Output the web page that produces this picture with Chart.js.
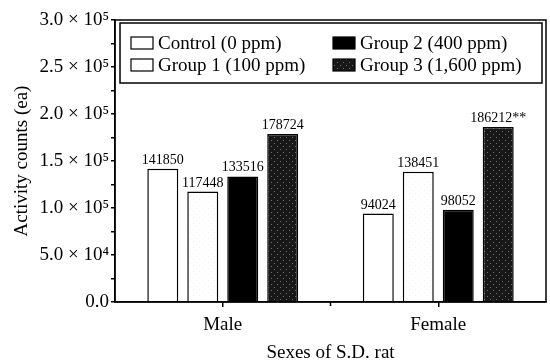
<!DOCTYPE html>
<html>
<head>
<meta charset="utf-8">
<script src="https://cdn.jsdelivr.net/npm/chart.js@4"></script>
<style>
	html, body { margin: 0; padding: 0; background: #fff; }
</style>
</head>
<body>
<canvas id="chart" width="550" height="364"></canvas>
<script>
var sexes = ['Male', 'Female'];
var groupNames = ['Control (0 ppm)', 'Group 1 (100 ppm)', 'Group 2 (400 ppm)', 'Group 3 (1,600 ppm)'];
var controlCounts = [141850, 94024];
var group1Counts = [117448, 138451];
var group2Counts = [133516, 98052];
var group3Counts = [178724, 186212];
var group3Marks = ['', '**'];
var yTickValues = [0, 50000, 100000, 150000, 200000, 250000, 300000];
var yTickLabels = ['0.0', '5.0 × 10⁴', '1.0 × 10⁵', '1.5 × 10⁵', '2.0 × 10⁵', '2.5 × 10⁵', '3.0 × 10⁵'];

var SERIF = '"Liberation Serif", "DejaVu Serif", serif';

// small dotted tile, used as a fill for the shaded groups
function makeDots(base, speck, spots) {
	var c = document.createElement('canvas');
	c.width = 6;
	c.height = 6;
	var g = c.getContext('2d');
	g.fillStyle = base;
	g.fillRect(0, 0, 6, 6);
	g.fillStyle = speck;
	spots.forEach(function (s) {
		g.fillRect(s[0], s[1], 1, 1);
	});
	return g.createPattern(c, 'repeat');
}

var lightDots = makeDots('#ffffff', '#f2f2f2', [[1, 1], [4, 4]]);
var darkDots = makeDots('#181818', '#6e6e6e', [[1, 2], [4, 5]]);

// value written above every bar
var valueLabels = {
	id: 'valueLabels',
	afterDatasetsDraw: function (chart) {
		var ctx = chart.ctx;
		ctx.save();
		ctx.font = '14px ' + SERIF;
		ctx.fillStyle = '#000';
		ctx.textAlign = 'center';
		ctx.textBaseline = 'alphabetic';
		chart.data.datasets.forEach(function (ds, di) {
			chart.getDatasetMeta(di).data.forEach(function (bar, i) {
				var txt = String(ds.data[i]) + (ds.marks ? ds.marks[i] : '');
				ctx.fillText(txt, bar.x, bar.y - 5);
			});
		});
		ctx.restore();
	}
};

// box round the plot area and the tick between the two sexes
var frame = {
	id: 'frame',
	afterDraw: function (chart) {
		var a = chart.chartArea;
		var x = chart.scales.x;
		var ctx = chart.ctx;
		ctx.save();
		ctx.strokeStyle = '#000';
		ctx.lineWidth = 1.5;
		ctx.strokeRect(a.left, a.top, a.right - a.left, a.bottom - a.top);
		var mid = (x.getPixelForValue(0) + x.getPixelForValue(1)) / 2;
		ctx.beginPath();
		ctx.moveTo(mid, a.bottom);
		ctx.lineTo(mid, a.bottom + 4);
		ctx.stroke();
		ctx.restore();
	}
};

// two column legend in a box at the top of the plot
var boxLegend = {
	id: 'boxLegend',
	afterDraw: function (chart) {
		var a = chart.chartArea;
		var ctx = chart.ctx;
		var left = a.left + 5, top = a.top + 3;
		var right = a.right - 4, bottom = a.top + 63;
		var cols = [left + 11, left + 213];
		var rows = [top + 20, top + 42];
		ctx.save();
		ctx.fillStyle = '#fff';
		ctx.fillRect(left, top, right - left, bottom - top);
		ctx.strokeStyle = '#000';
		ctx.lineWidth = 1.5;
		ctx.strokeRect(left, top, right - left, bottom - top);
		ctx.font = '19px ' + SERIF;
		ctx.textBaseline = 'middle';
		chart.data.datasets.forEach(function (ds, i) {
			var cx = cols[Math.floor(i / 2)];
			var cy = rows[i % 2];
			ctx.fillStyle = ds.backgroundColor;
			ctx.fillRect(cx, cy - 6, 22, 12);
			ctx.lineWidth = 1.2;
			ctx.strokeRect(cx, cy - 6, 22, 12);
			ctx.fillStyle = '#000';
			ctx.fillText(ds.label, cx + 27, cy + 1);
		});
		ctx.restore();
	}
};

function bars(label, values, fill) {
	return {
		label: label,
		data: values,
		backgroundColor: fill,
		borderColor: '#000',
		borderWidth: 1.5,
		categoryPercentage: 0.742,
		barPercentage: 0.775
	};
}

var datasets = [
	bars(groupNames[0], controlCounts, '#ffffff'),
	bars(groupNames[1], group1Counts, lightDots),
	bars(groupNames[2], group2Counts, '#000000'),
	bars(groupNames[3], group3Counts, darkDots)
];
datasets[3].marks = group3Marks;

new Chart(document.getElementById('chart'), {
	type: 'bar',
	data: { labels: sexes, datasets: datasets },
	options: {
		responsive: false,
		animation: false,
		layout: { padding: { top: 20, right: 4, left: 2, bottom: 0 } },
		plugins: {
			legend: { display: false },
			tooltip: { enabled: false }
		},
		scales: {
			x: {
				grid: { offset: false, drawOnChartArea: false, tickLength: 5, color: '#000', lineWidth: 1.5 },
				border: { color: '#000', width: 1.5 },
				ticks: { color: '#000', padding: 7, font: { family: SERIF, size: 19 } },
				title: { display: true, text: 'Sexes of S.D. rat', color: '#000', padding: { top: 0, bottom: 0 }, font: { family: SERIF, size: 19 } },
				afterFit: function (scale) { scale.height = 62; }
			},
			y: {
				min: 0,
				max: 300000,
				ticks: {
					stepSize: 25000,
					autoSkip: false,
					color: '#000',
					padding: 2,
					font: { family: SERIF, size: 19 },
					callback: function (v) {
						var k = yTickValues.indexOf(v);
						return k < 0 ? '' : yTickLabels[k];
					}
				},
				grid: { drawOnChartArea: false, tickLength: 4, color: '#000', lineWidth: 1.5 },
				border: { color: '#000', width: 1.5 },
				title: { display: true, text: 'Activity counts (ea)', color: '#000', padding: { top: 9, bottom: 0 }, font: { family: SERIF, size: 19 } },
				afterFit: function (scale) { scale.width = 113; }
			}
		}
	},
	plugins: [valueLabels, frame, boxLegend]
});
</script>
</body>
</html>
